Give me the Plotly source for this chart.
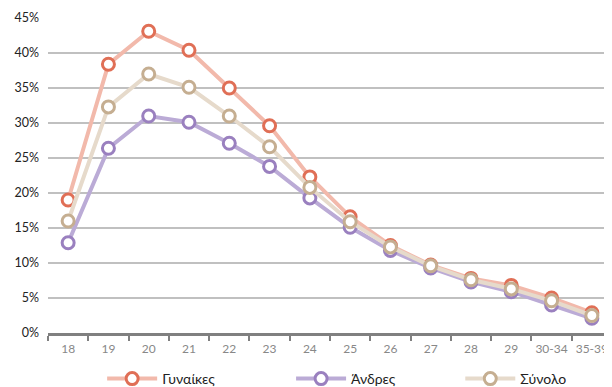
import plotly.graph_objects as go

# age groups on the x axis
ages = ["18", "19", "20", "21", "22", "23", "24", "25", "26", "27", "28", "29", "30-34", "35-39"]

# shares in percent
gynaikes = [19.0, 38.4, 43.1, 40.4, 35.0, 29.6, 22.3, 16.6, 12.5, 9.7, 7.8, 6.8, 5.0, 2.9]
andres = [12.9, 26.4, 31.0, 30.1, 27.1, 23.8, 19.3, 15.1, 11.8, 9.3, 7.3, 5.9, 4.0, 2.1]
synolo = [16.0, 32.3, 37.0, 35.1, 31.0, 26.6, 20.8, 15.9, 12.3, 9.6, 7.6, 6.3, 4.6, 2.5]

series = [
    ("Γυναίκες", gynaikes, "#F2B9AB", "#E06F56", "legend", 0.096),
    ("Άνδρες", andres, "#BBABD6", "#9A80BF", "legend2", 0.431),
    ("Σύνολο", synolo, "#E6DACB", "#C5AE91", "legend3", 0.731),
]

fig = go.Figure()
legends = {}
for name, vals, line_col, mark_col, leg, lx in series:
    fig.add_trace(go.Scatter(
        x=ages, y=vals, name=name, mode="lines+markers",
        line=dict(color=line_col, width=4),
        marker=dict(symbol="circle", size=12, color="white",
                    line=dict(color=mark_col, width=3)),
        cliponaxis=False, legend=leg,
    ))
    # one legend per series so each entry sits where the reference has it
    legends[leg] = dict(orientation="h", x=lx, xanchor="left",
                        y=-62 / 315, yanchor="bottom", bgcolor="rgba(0,0,0,0)",
                        font=dict(size=14, color="#222222"), itemwidth=50)

# the page body adds an 8px margin, so the figure is shifted a bit in the window
fig.update_layout(
    width=604, height=387,
    margin=dict(l=40, r=0, t=10, b=62),
    paper_bgcolor="white", plot_bgcolor="white",
    font=dict(family="Lato, 'Open Sans', sans-serif", size=13, color="#333333"),
    showlegend=True,
    **legends,
)

fig.update_yaxes(
    range=[0, 45], dtick=5, ticksuffix="%",
    showgrid=True, gridcolor="#C0C0C0", gridwidth=1.5,
    zeroline=False, showline=False, automargin=False,
    tickfont=dict(size=12.5, color="#222222"), ticklabelstandoff=8,
)
fig.update_xaxes(
    type="category", range=[-0.5, 13.5], showgrid=False, automargin=False,
    showline=True, linecolor="#808080", linewidth=2.5, tickangle=0,
    ticks="outside", tickson="boundaries", ticklen=5, tickwidth=2, tickcolor="#808080",
    tickfont=dict(size=12, color="#888888"), ticklabelstandoff=3,
)

fig.write_html("out.html")
